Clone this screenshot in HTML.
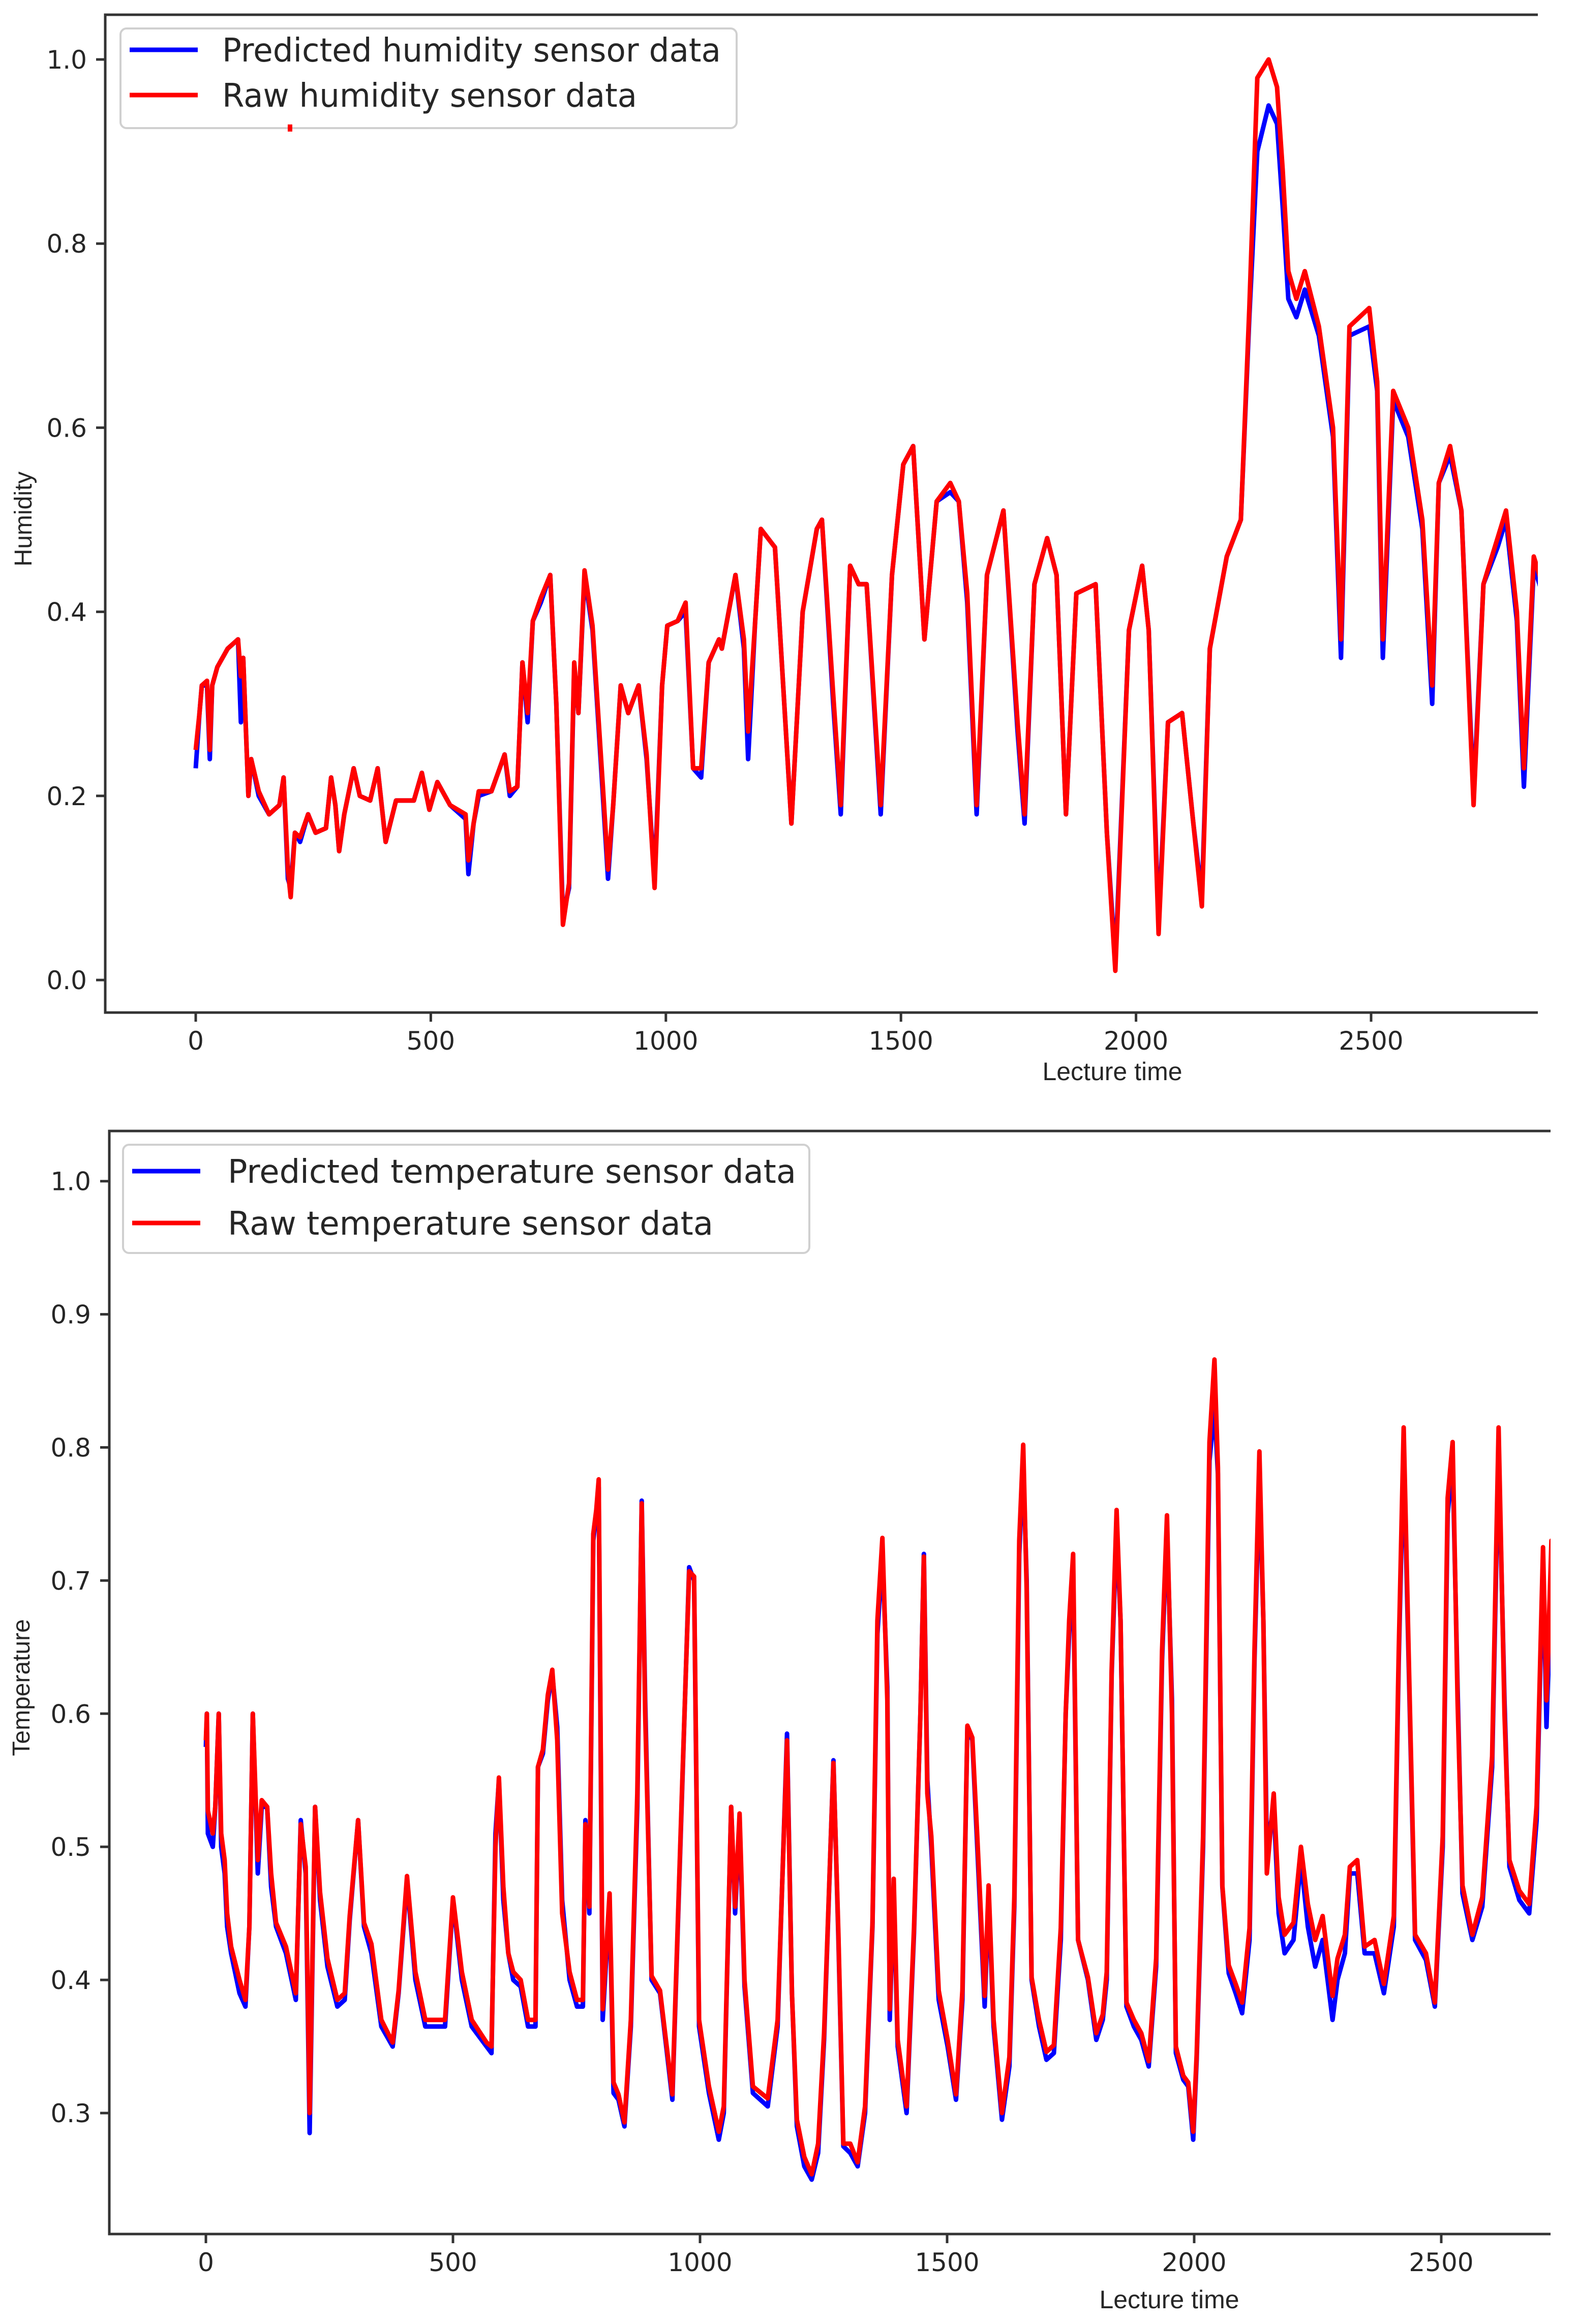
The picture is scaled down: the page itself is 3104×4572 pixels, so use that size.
<!DOCTYPE html>
<html><head><meta charset="utf-8"><style>
html,body{margin:0;padding:0;background:#fff;}
svg{display:block;}
text{font-family:"DejaVu Sans","Liberation Sans",sans-serif;fill:#262626;}
</style></head>
<body>
<svg id="fig" width="3104" height="4572" viewBox="0 0 3104 4572" xmlns="http://www.w3.org/2000/svg">
<defs>
<clipPath id="clipTop"><rect x="207" y="29" width="2818" height="1963"/></clipPath>
<clipPath id="clipBot"><rect x="215" y="2225" width="2835" height="2170"/></clipPath>
</defs>
<rect x="0" y="0" width="3104" height="4572" fill="#fff"/>
<g id="topChart"></g>
<g id="botChart"></g>
</svg>
<script>
// ---------- Humidity data ----------
const humX = [0,8,13,24,30,35,46,68,90,96,
101,112,118,134,156,178,187,196,202,211,
222,239,255,277,288,297,305,316,336,349,
371,387,404,426,464,481,497,514,541,574,
580,591,602,629,657,668,684,695,706,717,
734,754,767,781,794,805,814,827,844,866,
877,888,904,920,942,959,976,992,1003,1025,
1042,1058,1075,1091,1113,1119,1148,1166,1175,1190,
1202,1232,1267,1291,1321,1332,1356,1372,1392,1410,
1427,1457,1481,1505,1526,1550,1576,1605,1623,1641,
1661,1683,1718,1748,1763,1784,1811,1831,1851,1873,
1914,1938,1956,1985,2013,2027,2048,2068,2098,2122,
2140,2157,2193,2223,2241,2258,2282,2300,2312,2324,
2341,2359,2389,2419,2436,2454,2496,2513,2525,2547,
2579,2609,2630,2644,2668,2692,2718,2739,2769,2787,
2810,2825,2846,2870];
const humRaw = [.25,.29,.32,.325,.25,.32,.34,.36,.37,.33,
.35,.20,.24,.205,.18,.19,.22,.12,.09,.16,
.155,.18,.16,.165,.22,.19,.14,.18,.23,.20,
.195,.23,.15,.195,.195,.225,.185,.215,.19,.18,
.13,.17,.205,.205,.245,.205,.21,.345,.29,.39,
.415,.44,.30,.06,.105,.345,.29,.445,.385,.21,
.12,.19,.32,.29,.32,.245,.10,.32,.385,.39,
.41,.23,.23,.345,.37,.36,.44,.37,.27,.39,
.49,.47,.17,.40,.49,.50,.31,.19,.45,.43,
.43,.19,.44,.56,.58,.37,.52,.54,.52,.42,
.19,.44,.51,.28,.18,.43,.48,.44,.18,.42,
.43,.16,.01,.38,.45,.38,.05,.28,.29,.17,
.08,.36,.46,.50,.73,.98,1.0,.97,.88,.77,
.74,.77,.71,.60,.37,.71,.73,.65,.37,.64,
.60,.50,.32,.54,.58,.51,.19,.43,.48,.51,
.40,.23,.46,.42];
const humPred = [.23,.29,.32,.32,.24,.32,.34,.36,.37,.28,
.35,.20,.24,.20,.18,.19,.22,.11,.10,.16,
.15,.18,.16,.165,.22,.19,.14,.18,.23,.20,
.195,.23,.15,.195,.195,.225,.185,.215,.19,.175,
.115,.17,.20,.205,.245,.20,.21,.345,.28,.39,
.41,.44,.30,.07,.10,.34,.29,.44,.38,.20,
.11,.19,.32,.29,.32,.24,.11,.32,.385,.39,
.40,.23,.22,.345,.37,.36,.44,.36,.24,.39,
.49,.47,.17,.40,.49,.50,.30,.18,.45,.43,
.43,.18,.44,.56,.58,.37,.52,.53,.52,.41,
.18,.44,.51,.27,.17,.43,.48,.44,.18,.42,
.43,.16,.02,.38,.45,.38,.06,.28,.29,.17,
.09,.36,.46,.50,.72,.90,.95,.93,.84,.74,
.72,.75,.70,.59,.35,.70,.71,.64,.35,.63,
.59,.49,.30,.54,.57,.51,.20,.43,.47,.50,
.39,.21,.45,.41];
const humXTicks = [0,500,1000,1500,2000,2500];
const humYTicks = [0.0,0.2,0.4,0.6,0.8,1.0];
const humYTickLabels = ["0.0","0.2","0.4","0.6","0.8","1.0"];

// ---------- Temperature data ----------
const tempX = [0,2,4,14,19,26,31,38,43,51,
68,80,88,95,105,113,124,132,142,162,
182,192,202,210,221,231,246,266,281,291,
308,320,335,355,378,390,407,424,444,484,
500,518,538,568,578,586,593,602,612,622,
637,652,667,672,682,692,701,711,721,736,
751,763,768,776,784,790,795,803,817,825,
835,847,860,873,882,889,902,919,944,964,
978,988,998,1018,1038,1048,1063,1071,1080,1090,
1107,1137,1157,1176,1186,1196,1211,1226,1239,1251,
1270,1280,1290,1304,1319,1334,1349,1359,1369,1379,
1384,1392,1400,1418,1433,1446,1453,1460,1468,1483,
1501,1518,1531,1541,1551,1561,1576,1584,1594,1611,
1626,1636,1646,1654,1661,1671,1686,1701,1716,1730,
1740,1747,1755,1765,1785,1802,1815,1823,1833,1843,
1851,1863,1878,1893,1908,1923,1935,1945,1955,1963,
1978,1988,1998,2005,2018,2031,2041,2048,2057,2070,
2084,2097,2112,2122,2132,2140,2147,2161,2171,2183,
2201,2216,2230,2245,2260,2280,2290,2305,2315,2330,
2345,2365,2384,2404,2414,2424,2434,2447,2469,2487,
2503,2513,2523,2533,2543,2563,2583,2603,2616,2628,
2638,2658,2678,2693,2706,2713,2723,2728];
const tempRaw = [.58,.60,.527,.51,.53,.60,.51,.49,.45,.425,
.40,.385,.44,.60,.49,.535,.53,.48,.443,.425,
.39,.517,.485,.30,.53,.466,.416,.385,.39,.448,
.52,.443,.427,.37,.353,.392,.478,.406,.37,.37,
.462,.406,.37,.353,.35,.50,.552,.47,.42,.406,
.40,.37,.37,.56,.573,.614,.633,.58,.45,.406,
.385,.385,.517,.455,.735,.753,.776,.378,.465,.323,
.314,.293,.37,.54,.758,.60,.403,.392,.314,.548,
.707,.703,.37,.32,.286,.305,.53,.455,.525,.40,
.32,.311,.37,.58,.39,.295,.267,.254,.277,.36,
.563,.434,.277,.277,.263,.305,.443,.67,.732,.61,
.378,.476,.355,.305,.439,.60,.718,.54,.508,.392,
.355,.314,.392,.591,.582,.508,.388,.471,.37,.30,
.342,.462,.73,.802,.693,.402,.37,.346,.351,.439,
.60,.67,.72,.43,.402,.36,.374,.406,.633,.753,
.67,.383,.37,.36,.339,.416,.647,.749,.60,.35,
.328,.323,.286,.344,.508,.804,.866,.785,.471,.411,
.397,.383,.439,.647,.797,.67,.48,.54,.462,.434,
.443,.50,.457,.43,.448,.388,.416,.434,.485,.49,
.425,.43,.397,.448,.647,.815,.647,.434,.42,.383,
.508,.762,.804,.61,.471,.434,.462,.568,.815,.60,
.49,.467,.457,.531,.725,.61,.73,.545];
const tempPred = [.575,.60,.51,.50,.53,.60,.50,.48,.44,.42,
.39,.38,.44,.60,.48,.53,.53,.47,.44,.42,
.385,.52,.48,.285,.53,.46,.41,.38,.385,.445,
.52,.44,.42,.365,.35,.39,.475,.40,.365,.365,
.46,.40,.365,.35,.345,.51,.55,.46,.42,.40,
.395,.365,.365,.56,.57,.61,.63,.59,.46,.40,
.38,.38,.52,.45,.73,.75,.77,.37,.46,.315,
.31,.29,.365,.53,.76,.61,.40,.39,.31,.545,
.71,.70,.365,.315,.28,.30,.53,.45,.52,.395,
.315,.305,.365,.585,.39,.29,.26,.25,.27,.355,
.565,.43,.275,.27,.26,.30,.44,.66,.72,.62,
.37,.47,.35,.30,.435,.60,.72,.55,.50,.385,
.35,.31,.385,.59,.58,.50,.38,.465,.365,.295,
.335,.455,.72,.79,.70,.40,.365,.34,.345,.43,
.60,.66,.71,.43,.40,.355,.37,.40,.63,.74,
.67,.38,.365,.355,.335,.41,.64,.74,.61,.345,
.325,.32,.28,.34,.50,.79,.83,.78,.47,.405,
.39,.375,.43,.64,.78,.67,.50,.53,.45,.42,
.43,.49,.44,.41,.43,.37,.40,.42,.48,.48,
.42,.42,.39,.44,.64,.80,.64,.43,.415,.38,
.50,.75,.79,.62,.465,.43,.455,.56,.80,.61,
.485,.46,.45,.52,.72,.59,.72,.52];
const tempXTicks = [0,500,1000,1500,2000,2500];
const tempYTicks = [0.3,0.4,0.5,0.6,0.7,0.8,0.9,1.0];
const tempYTickLabels = ["0.3","0.4","0.5","0.6","0.7","0.8","0.9","1.0"];

const NS = "http://www.w3.org/2000/svg";
function hx(d){ return 385 + d*0.9248; }
function hy(v){ return 1928 - v*1811; }
function tx(d){ return 405 + d*0.972; }
function ty(v){ return 4157 - (v-0.3)*2619; }

function mk(tag, attrs, parent){
  const e = document.createElementNS(NS, tag);
  for (const k in attrs) e.setAttribute(k, attrs[k]);
  parent.appendChild(e);
  return e;
}
function pathD(xs, ys, fx, fy){
  let d = "";
  for (let i=0;i<xs.length;i++){ d += (i?"L":"M") + fx(xs[i]).toFixed(1) + "," + fy(ys[i]).toFixed(1); }
  return d;
}

function buildChart(g, cfg){
  const series = mk("g", {"clip-path":"url(#"+cfg.clip+")"}, g);
  const pb = mk("path", {d:pathD(cfg.xs, cfg.pred, cfg.fx, cfg.fy), fill:"none", stroke:"#0000ff", "stroke-width":"9", "stroke-linejoin":"round"}, series);
  
  
  const pr = mk("path", {d:pathD(cfg.xs, cfg.raw, cfg.fx, cfg.fy), fill:"none", stroke:"#ff0000", "stroke-width":"9", "stroke-linejoin":"round"}, series);
  
  

  const sp = mk("path", {d:"M"+cfg.R+","+cfg.T+"L"+cfg.L+","+cfg.T+"L"+cfg.L+","+cfg.B+"L"+cfg.R+","+cfg.B, fill:"none", stroke:"#333", "stroke-width":"5"}, g);
  
  

  cfg.xticks.forEach(function(t){
    const x = cfg.fx(t);
    const tk = mk("line", {x1:x, y1:cfg.B, x2:x, y2:cfg.B+18, stroke:"#333", "stroke-width":"5"}, g);
    
    
    const lb = mk("text", {x:x, y:cfg.B+73, "text-anchor":"middle", "font-size":"50"}, g);
    lb.textContent = String(t);
    
    
  });
  cfg.yticks.forEach(function(t, i){
    const y = cfg.fy(t);
    const tk = mk("line", {x1:cfg.L-18, y1:y, x2:cfg.L, y2:y, stroke:"#333", "stroke-width":"5"}, g);
    
    
    const lb = mk("text", {x:cfg.L-36, y:y+18, "text-anchor":"end", "font-size":"50"}, g);
    lb.textContent = cfg.ylabels[i];
    
    
  });
  const xt = mk("text", {x:cfg.xtX, y:cfg.xtY, "text-anchor":"middle", "font-size":"50", style:"font-family:'Liberation Sans',sans-serif"}, g);
  xt.textContent = "Lecture time";
  
  
  const yt = mk("text", {x:0, y:0, "text-anchor":"middle", "font-size":"48", transform:"translate("+cfg.ytX+","+cfg.ytY+") rotate(-90)", style:"font-family:'Liberation Sans',sans-serif"}, g);
  yt.textContent = cfg.ytitle;
  
  

  const lg = mk("g", {}, g);
  
  
  mk("rect", {x:cfg.lgX, y:cfg.lgY, width:cfg.lgW, height:cfg.lgH, rx:"12", fill:"#fff", "fill-opacity":"0.85", stroke:"#d0d0d0", "stroke-width":"4"}, lg);
  const e1 = mk("g", {}, lg);
  
  
  mk("line", {x1:cfg.lgX+18, x2:cfg.lgX+152, y1:cfg.l1Y, y2:cfg.l1Y, stroke:"#0000ff", "stroke-width":"9"}, e1);
  const t1 = mk("text", {x:cfg.txtX, y:cfg.l1Y+23, "font-size":"64", textLength:cfg.t1W, lengthAdjust:"spacingAndGlyphs"}, e1);
  t1.textContent = cfg.t1;
  const e2 = mk("g", {}, lg);
  
  
  mk("line", {x1:cfg.lgX+18, x2:cfg.lgX+152, y1:cfg.l2Y, y2:cfg.l2Y, stroke:"#ff0000", "stroke-width":"9"}, e2);
  const t2 = mk("text", {x:cfg.txtX, y:cfg.l2Y+23, "font-size":"64", textLength:cfg.t2W, lengthAdjust:"spacingAndGlyphs"}, e2);
  t2.textContent = cfg.t2;
}

buildChart(document.getElementById("topChart"), {
  clip:"clipTop", xs:humX, raw:humRaw, pred:humPred, fx:hx, fy:hy,
  predName:"predicted-humidity-line", rawName:"raw-humidity-line",
  L:207, T:29, R:3025, B:1992, xticks:humXTicks, yticks:humYTicks, ylabels:humYTickLabels,
  xtX:2188, xtY:2125, ytX:62, ytY:1021, ytitle:"Humidity",
  lgX:237, lgY:56, lgW:1212, lgH:196, l1Y:98, l2Y:187, txtX:437, t1W:981, t2W:816,
  t1:"Predicted humidity sensor data", t2:"Raw humidity sensor data"
});
buildChart(document.getElementById("botChart"), {
  clip:"clipBot", xs:tempX, raw:tempRaw, pred:tempPred, fx:tx, fy:ty,
  predName:"predicted-temperature-line", rawName:"raw-temperature-line",
  L:215, T:2225, R:3050, B:4395, xticks:tempXTicks, yticks:tempYTicks, ylabels:tempYTickLabels,
  xtX:2300, xtY:4541, ytX:58, ytY:3320, ytitle:"Temperature",
  lgX:242, lgY:2252, lgW:1350, lgH:213, l1Y:2304, l2Y:2406, txtX:448, t1W:1118, t2W:955,
  t1:"Predicted temperature sensor data", t2:"Raw temperature sensor data"
});

// stray red mark in the humidity chart (raw outlier near x=200)
const stray = mk("rect", {x:hx(200)-4, y:hy(0.925)-8, width:"9", height:"14", fill:"#ff0000"}, document.getElementById("topChart"));


</script>
</body></html>
